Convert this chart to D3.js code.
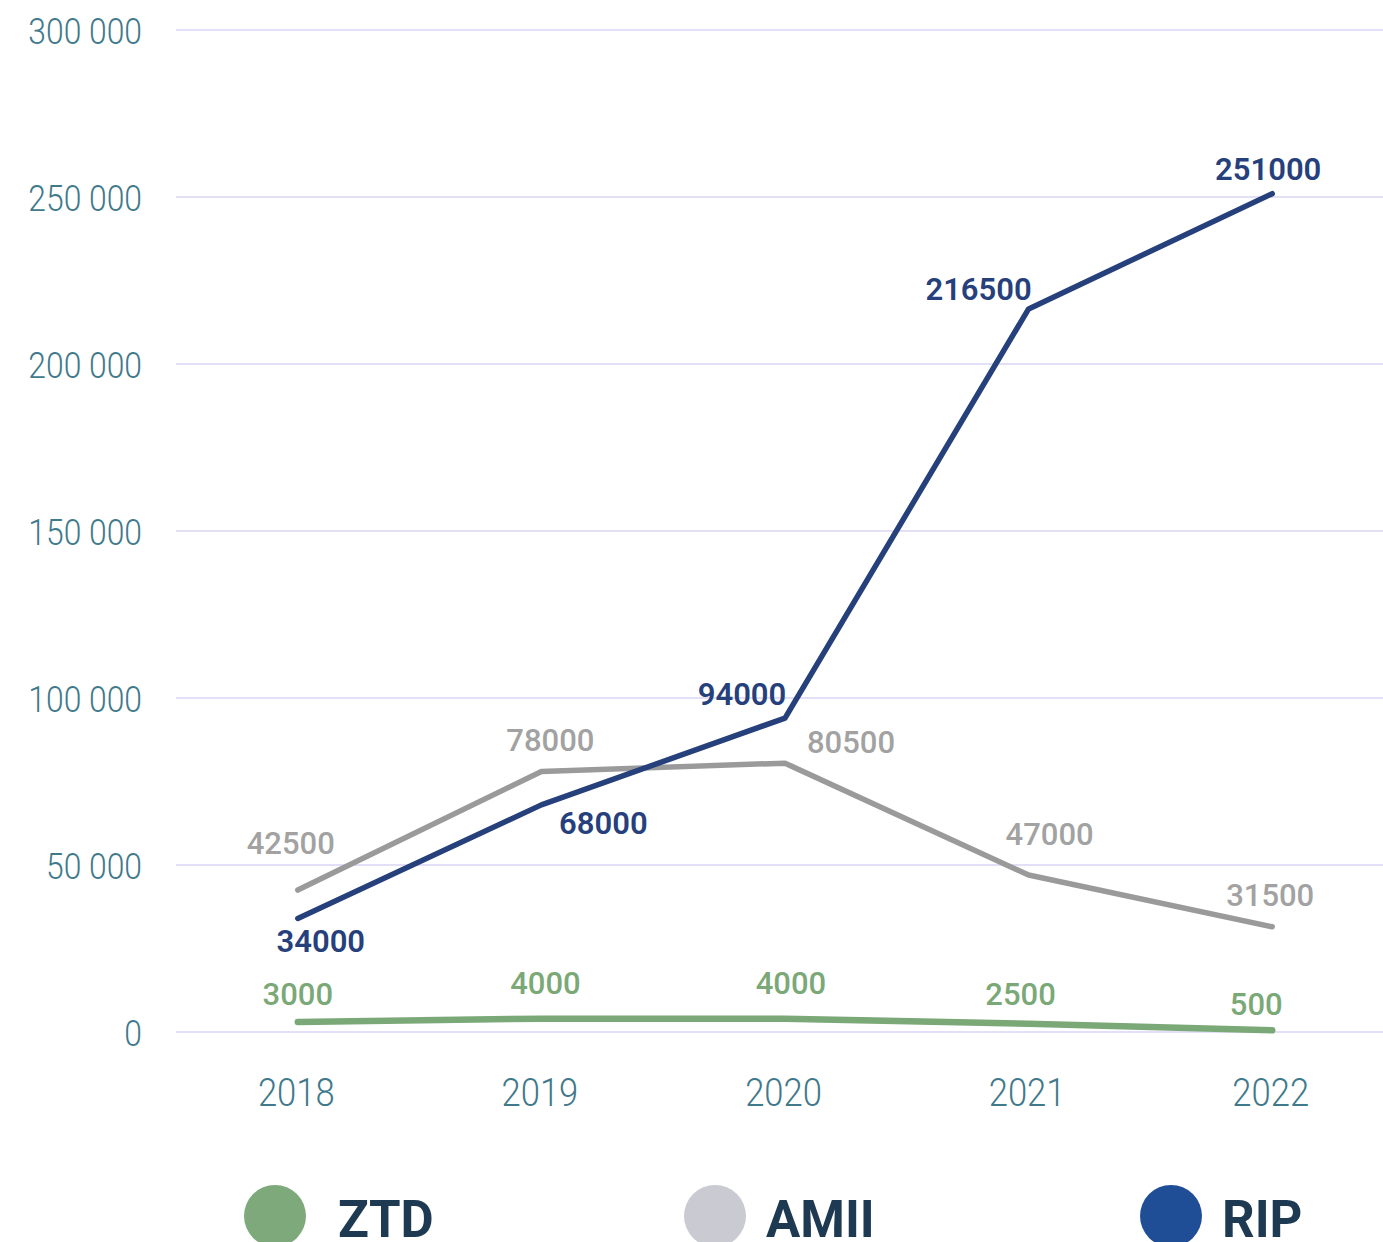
<!DOCTYPE html>
<html>
<head>
<meta charset="utf-8">
<script src="https://cdn.jsdelivr.net/npm/d3@7"></script>
<style>
  html, body { margin: 0; padding: 0; background: #ffffff; }
  svg { display: block; }
</style>
</head>
<body>
<svg id="chart" width="1383" height="1242"></svg>
<script>
// ---- data ----
const years = ["2018", "2019", "2020", "2021", "2022"];
const seriesNames = ["ZTD", "AMII", "RIP"];
const ztdValues = [3000, 4000, 4000, 2500, 500];
const amiiValues = [42500, 78000, 80500, 47000, 31500];
const ripValues = [34000, 68000, 94000, 216500, 251000];
const yTickValues = [0, 50000, 100000, 150000, 200000, 250000, 300000];

// ---- styles / layout ----
const lineColors = { ZTD: "#7ba877", AMII: "#9a9a9a", RIP: "#26407c" };
const lineWidths = { ZTD: 6.5, AMII: 5.5, RIP: 5.5 };
const labelColors = { ZTD: "#7ba877", AMII: "#a2a2a2", RIP: "#26407c" };
const legendColors = { ZTD: "#7ea97a", AMII: "#c9cad2", RIP: "#1f4e96" };
const labelOffsets = {
  ZTD:  [[0, -17], [4, -25], [6, -25], [-8, -19], [-16, -15]],
  AMII: [[-7, -36], [9, -20], [66, -10], [21, -30], [-2, -21]],
  RIP:  [[23, 34], [62, 29], [-43, -13], [-50, -9], [-4, -14]]
};

const svg = d3.select("#chart");
const W = 1383;

const x = d3.scalePoint().domain(years).range([176, 1394]).padding(0.5);
const y = d3.scaleLinear().domain([0, 300000]).range([1032, 30]);

const tickFont = "Roboto, sans-serif";
const tickColor = "#40798b";

// condense a text horizontally by a factor (the reference uses a narrow face)
function condense(sel, factor) {
  sel.each(function () {
    const len = this.getComputedTextLength();
    d3.select(this).attr("textLength", len * factor).attr("lengthAdjust", "spacingAndGlyphs");
  });
}

// gridlines
svg.append("g")
  .selectAll("line")
  .data(yTickValues)
  .join("line")
  .attr("x1", 176).attr("x2", W)
  .attr("y1", d => y(d)).attr("y2", d => y(d))
  .attr("stroke", "#e2dff6").attr("stroke-width", 2);

// y axis labels
const fmt = d => d3.format(",")(d).replace(/,/g, " ");
const yAxis = d3.axisLeft(y).tickValues(yTickValues).tickFormat(fmt).tickSize(0).tickPadding(0);
const yg = svg.append("g").attr("transform", "translate(142,0)").call(yAxis);
yg.select(".domain").remove();
yg.selectAll("text")
  .attr("font-family", tickFont)
  .attr("font-weight", 300)
  .attr("font-size", 37)
  .attr("fill", tickColor)
  .attr("dy", "0.36em")
  .call(condense, 0.86);

// x axis labels
const xAxis = d3.axisBottom(x).tickSize(0).tickPadding(0);
const xg = svg.append("g").attr("transform", "translate(-2,1106)").call(xAxis);
xg.select(".domain").remove();
xg.selectAll("text")
  .attr("font-family", tickFont)
  .attr("font-weight", 300)
  .attr("font-size", 38)
  .attr("fill", tickColor)
  .attr("dy", 0)
  .call(condense, 0.91);

// lines
const series = [
  { name: "ZTD", values: ztdValues },
  { name: "AMII", values: amiiValues },
  { name: "RIP", values: ripValues }
];
const line = d3.line().x((d, i) => x(years[i])).y(d => y(d));

svg.append("g")
  .selectAll("path")
  .data(series)
  .join("path")
  .attr("d", d => line(d.values))
  .attr("fill", "none")
  .attr("stroke", d => lineColors[d.name])
  .attr("stroke-width", d => lineWidths[d.name])
  .attr("stroke-linecap", "round")
  .attr("stroke-linejoin", "round");

// data labels
series.forEach(s => {
  svg.append("g")
    .selectAll("text")
    .data(s.values)
    .join("text")
    .attr("x", (d, i) => x(years[i]) + labelOffsets[s.name][i][0])
    .attr("y", (d, i) => y(d) + labelOffsets[s.name][i][1])
    .attr("text-anchor", "middle")
    .attr("font-family", "Roboto, sans-serif")
    .attr("font-weight", s.name === "RIP" ? 600 : 500)
    .attr("font-size", 31)
    .attr("fill", labelColors[s.name])
    .text(d => d);
});

// legend
const legendCenters = { ZTD: 275, AMII: 715, RIP: 1171 };
const lg = svg.append("g")
  .selectAll("g")
  .data(seriesNames)
  .join("g")
  .attr("transform", d => `translate(${legendCenters[d]},1216)`);
lg.append("circle").attr("r", 31).attr("fill", d => legendColors[d]);
lg.append("text")
  .attr("x", d => d === "ZTD" ? 63 : 51)
  .attr("y", 21)
  .attr("font-family", "Roboto, sans-serif")
  .attr("font-weight", 700)
  .attr("font-size", 51)
  .attr("fill", "#1e3a52")
  .text(d => d);
</script>
</body>
</html>
